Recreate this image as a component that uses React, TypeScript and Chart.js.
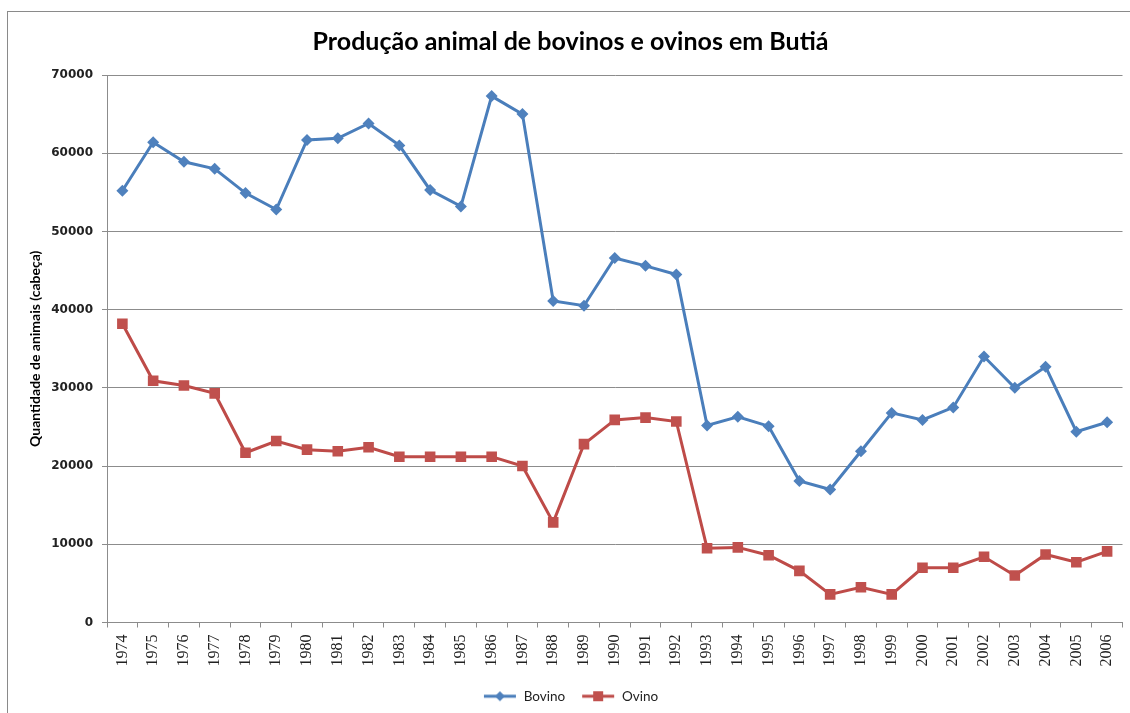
import React, { useEffect, useRef } from "react";
import { Chart, registerables } from "chart.js";

Chart.register(...registerables);

const years = [
  "1974", "1975", "1976", "1977", "1978", "1979", "1980", "1981", "1982", "1983",
  "1984", "1985", "1986", "1987", "1988", "1989", "1990", "1991", "1992", "1993",
  "1994", "1995", "1996", "1997", "1998", "1999", "2000", "2001", "2002", "2003",
  "2004", "2005", "2006",
];

const bovino = [
  55200, 61400, 58900, 58000, 54900, 52800, 61700, 61900, 63800, 61000,
  55300, 53200, 67300, 65000, 41100, 40500, 46600, 45600, 44500, 25200,
  26300, 25100, 18100, 17000, 21900, 26800, 25900, 27500, 34000, 30000,
  32700, 24400, 25600,
];

const ovino = [
  38200, 30900, 30300, 29300, 21700, 23200, 22100, 21900, 22400, 21200,
  21200, 21200, 21200, 20000, 12800, 22800, 25900, 26200, 25700, 9500,
  9600, 8600, 6600, 3600, 4500, 3600, 7000, 7000, 8400, 6000,
  8700, 7700, 9100,
];

const titleText = "Produção animal de bovinos e ovinos em Butiá";
const yTitle = "Quantidade de animais (cabeça)";
const seriesNames = ["Bovino", "Ovino"];

const BLUE = "#4A7EBB";
const BLUE_M = "#4F81BD";
const RED = "#BE4B48";
const RED_M = "#C0504D";
const GRID = "#8c8c8c";

function legendIcon(color: string, marker: string, shape: "diamond" | "square") {
  const c = document.createElement("canvas");
  c.width = 34;
  c.height = 14;
  const ctx = c.getContext("2d")!;
  ctx.strokeStyle = color;
  ctx.lineWidth = 3;
  ctx.beginPath();
  ctx.moveTo(1, 7);
  ctx.lineTo(33, 7);
  ctx.stroke();
  ctx.fillStyle = marker;
  ctx.beginPath();
  if (shape === "diamond") {
    ctx.moveTo(17, 2);
    ctx.lineTo(22, 7);
    ctx.lineTo(17, 12);
    ctx.lineTo(12, 7);
    ctx.closePath();
  } else {
    ctx.rect(12, 2, 10, 10);
  }
  ctx.fill();
  return c;
}

const framePlugin = {
  id: "frame",
  beforeDraw(chart: any) {
    const ctx = chart.ctx;
    ctx.save();
    ctx.fillStyle = "#ffffff";
    ctx.fillRect(0, 0, chart.width, chart.height);
    ctx.strokeStyle = "#8a8a8a";
    ctx.lineWidth = 1;
    ctx.strokeRect(7.5, 11.5, chart.width + 20, chart.height + 20);
    ctx.restore();
  },
};

export default function App() {
  const ref = useRef<HTMLCanvasElement | null>(null);

  useEffect(() => {
    if (!ref.current) return;
    const icons = [
      legendIcon(BLUE, BLUE_M, "diamond"),
      legendIcon(RED, RED_M, "square"),
    ];
    const chart = new Chart(ref.current, {
      type: "line",
      data: {
        labels: years,
        datasets: [
          {
            label: seriesNames[0],
            data: bovino,
            borderColor: BLUE,
            backgroundColor: BLUE_M,
            borderWidth: 3,
            pointStyle: "rectRot",
            pointRadius: 6,
            pointBorderWidth: 0,
            tension: 0,
          },
          {
            label: seriesNames[1],
            data: ovino,
            borderColor: RED,
            backgroundColor: RED_M,
            borderWidth: 3,
            pointStyle: "rect",
            pointRadius: 7.5,
            pointBorderWidth: 0,
            tension: 0,
          },
        ],
      },
      options: {
        responsive: false,
        animation: false,
        layout: { padding: { left: 14, right: 3, top: 0, bottom: 0 } },
        plugins: {
          title: {
            display: true,
            text: titleText,
            color: "#000",
            font: { family: "Lato", size: 25, weight: "bold" },
            padding: { top: 27, bottom: 18 },
          },
          legend: {
            position: "bottom",
            labels: {
              usePointStyle: true,
              pointStyleWidth: 34,
              boxHeight: 13,
              color: "#222",
              font: { family: "Lato", size: 13.5 },
              padding: 16,
              generateLabels: (ch: any) =>
                ch.data.datasets.map((ds: any, i: number) => ({
                  text: ds.label,
                  pointStyle: icons[i],
                  datasetIndex: i,
                  fillStyle: ds.backgroundColor,
                  strokeStyle: ds.borderColor,
                  lineWidth: 0,
                  hidden: false,
                  fontColor: "#222",
                })),
            },
          },
          tooltip: { enabled: false },
        },
        scales: {
          x: {
            offset: true,
            afterFit: (s: any) => {
              s.paddingRight = 0;
              s.paddingLeft = 0;
            },
            grid: {
              offset: true,
              drawOnChartArea: false,
              drawTicks: true,
              tickLength: 5,
              color: GRID,
            },
            border: { display: true, color: GRID },
            ticks: {
              autoSkip: false,
              minRotation: 90,
              maxRotation: 90,
              padding: 7,
              color: "#222",
              font: { family: "Liberation Serif", size: 16 },
            },
          },
          y: {
            min: 0,
            max: 70000,
            afterFit: (s: any) => {
              s.width = 93;
            },
            ticks: {
              stepSize: 10000,
              padding: 9,
              color: "#222",
              font: { family: "DejaVu Sans", size: 12, weight: "bold" },
              callback: (v: any) => String(v),
            },
            grid: { color: GRID, tickLength: 5 },
            border: { display: true, color: GRID },
            title: {
              display: true,
              text: yTitle,
              color: "#000",
              font: { family: "Lato", size: 14, weight: "bold" },
              padding: { top: 13, bottom: 0 },
            },
          },
        },
      },
      plugins: [framePlugin],
    } as any);
    return () => chart.destroy();
  }, []);

  return (
    <div style={{ position: "absolute", left: 0, top: 0, width: 1130, height: 713 }}>
      <canvas ref={ref} width={1130} height={713} />
    </div>
  );
}
